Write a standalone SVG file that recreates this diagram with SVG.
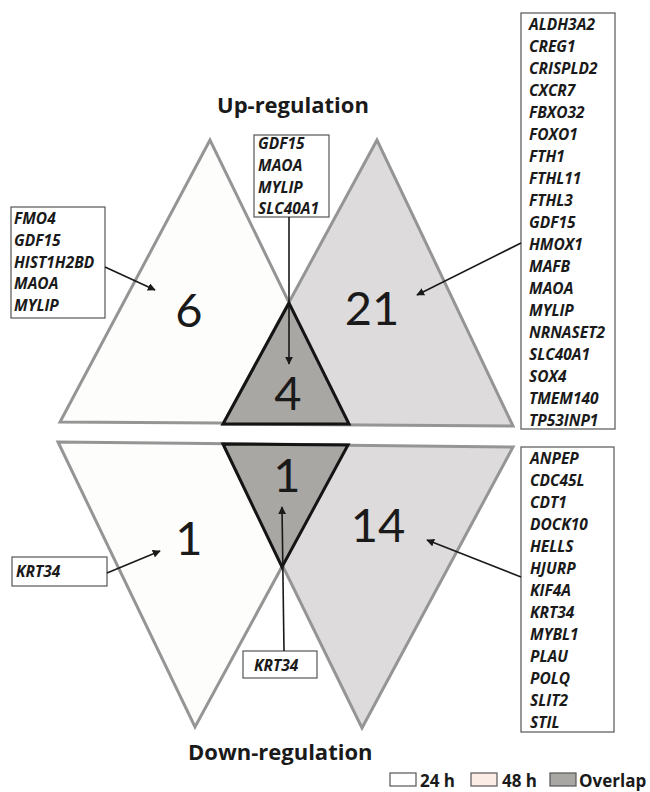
<svg xmlns="http://www.w3.org/2000/svg" width="650" height="792" viewBox="0 0 650 792">
<style>
.t24{fill:#fdfdfc;stroke:#959595;stroke-width:3;stroke-linejoin:miter}
.t48{fill:#dddbdb;stroke:#959595;stroke-width:3}
.ov{fill:#a9a7a4;stroke:#141414;stroke-width:3;stroke-linejoin:miter}
.num{font-family:Lato,"Liberation Sans",sans-serif;font-size:47px;fill:#1a1a1a;text-anchor:middle}
.title{font-family:"Open Sans","Liberation Sans",sans-serif;font-size:22px;font-weight:bold;fill:#1a1a1a}
.gene{font-family:"Open Sans","Liberation Sans",sans-serif;font-size:15.5px;font-weight:bold;font-style:italic;fill:#1a1a1a}
.box{fill:#fff;stroke:#555;stroke-width:1.2}
.leg{font-family:"Open Sans","Liberation Sans",sans-serif;font-size:17px;font-weight:bold;fill:#1a1a1a}
.arr{stroke:#1a1a1a;stroke-width:1.6;fill:none;marker-end:url(#ah)}
</style>
<defs>
<marker id="ah" viewBox="0 0 10 10" refX="9" refY="5" markerWidth="8" markerHeight="8" markerUnits="userSpaceOnUse" orient="auto">
<path d="M0,0 L10,5 L0,10 z" fill="#1a1a1a"/>
</marker>
</defs>

<text class="title" x="217" y="113">Up-regulation</text>
<text class="title" x="188" y="760">Down-regulation</text>

<g id="up-24h">
<polygon class="t24" points="210,140 60,422 348,424"/>
</g>
<g id="up-48h">
<polygon class="t48" points="377,140 223,424 513,426"/>
</g>
<g id="up-overlap">
<polygon class="ov" points="289,303 223,424 349,424"/>
</g>
<g id="down-24h">
<polygon class="t24" points="58,442 348,445 195,727"/>
</g>
<g id="down-48h">
<polygon class="t48" points="223,444 513,447 362,728"/>
</g>
<g id="down-overlap">
<polygon class="ov" points="223,444 348,445 282,567"/>
</g>

<g id="numbers">
<text class="num" x="189" y="327">6</text>
<text class="num" x="372" y="325">21</text>
<text class="num" x="288" y="410">4</text>
<text class="num" x="189" y="555">1</text>
<text class="num" x="287" y="492">1</text>
<text class="num" x="378" y="542">14</text>
</g>

<g id="box-up-24h">
<rect class="box" x="11" y="207" width="94" height="111"/>
<text class="gene" x="14" y="224">FMO4</text>
<text class="gene" x="14" y="246">GDF15</text>
<text class="gene" x="14" y="268">HIST1H2BD</text>
<text class="gene" x="14" y="289">MAOA</text>
<text class="gene" x="14" y="311">MYLIP</text>
</g>

<g id="box-up-overlap">
<rect class="box" x="254" y="135" width="75" height="82"/>
<text class="gene" x="258" y="149">GDF15</text>
<text class="gene" x="258" y="171">MAOA</text>
<text class="gene" x="258" y="193">MYLIP</text>
<text class="gene" x="258" y="214">SLC40A1</text>
</g>

<g id="box-up-48h">
<rect class="box" x="521" y="13" width="94" height="416"/>
<text class="gene" x="529" y="30">ALDH3A2</text>
<text class="gene" x="529" y="52">CREG1</text>
<text class="gene" x="529" y="74">CRISPLD2</text>
<text class="gene" x="529" y="96">CXCR7</text>
<text class="gene" x="529" y="118">FBXO32</text>
<text class="gene" x="529" y="140">FOXO1</text>
<text class="gene" x="529" y="162">FTH1</text>
<text class="gene" x="529" y="184">FTHL11</text>
<text class="gene" x="529" y="206">FTHL3</text>
<text class="gene" x="529" y="228">GDF15</text>
<text class="gene" x="529" y="250">HMOX1</text>
<text class="gene" x="529" y="272">MAFB</text>
<text class="gene" x="529" y="294">MAOA</text>
<text class="gene" x="529" y="316">MYLIP</text>
<text class="gene" x="529" y="338">NRNASET2</text>
<text class="gene" x="529" y="360">SLC40A1</text>
<text class="gene" x="529" y="382">SOX4</text>
<text class="gene" x="529" y="404">TMEM140</text>
<text class="gene" x="529" y="426">TP53INP1</text>
</g>

<g id="box-down-24h">
<rect class="box" x="12" y="557" width="95" height="29"/>
<text class="gene" x="16" y="577">KRT34</text>
</g>

<g id="box-down-overlap">
<rect class="box" x="243" y="651" width="74" height="27"/>
<text class="gene" x="254" y="671">KRT34</text>
</g>

<g id="box-down-48h">
<rect class="box" x="521" y="447" width="93" height="285"/>
<text class="gene" x="530" y="464">ANPEP</text>
<text class="gene" x="530" y="486">CDC45L</text>
<text class="gene" x="530" y="508">CDT1</text>
<text class="gene" x="530" y="530">DOCK10</text>
<text class="gene" x="530" y="552">HELLS</text>
<text class="gene" x="530" y="574">HJURP</text>
<text class="gene" x="530" y="596">KIF4A</text>
<text class="gene" x="530" y="618">KRT34</text>
<text class="gene" x="530" y="640">MYBL1</text>
<text class="gene" x="530" y="662">PLAU</text>
<text class="gene" x="530" y="684">POLQ</text>
<text class="gene" x="530" y="706">SLIT2</text>
<text class="gene" x="530" y="728">STIL</text>
</g>

<g id="connectors">
<line class="arr" x1="105" y1="267" x2="155" y2="290"/>
<line class="arr" x1="289" y1="217" x2="289" y2="364"/>
<line class="arr" x1="521" y1="243" x2="417" y2="295"/>
<line class="arr" x1="107" y1="573" x2="160" y2="551"/>
<line class="arr" x1="284" y1="651" x2="282" y2="507"/>
<line class="arr" x1="521" y1="577" x2="427" y2="540"/>
</g>

<g id="legend">
<rect x="390" y="773" width="26" height="13" fill="#fff" stroke="#555" stroke-width="1.2"/>
<text class="leg" x="420" y="787">24 h</text>
<rect x="471" y="773" width="26" height="13" fill="#fcece6" stroke="#555" stroke-width="1.2"/>
<text class="leg" x="502" y="787">48 h</text>
<rect x="550" y="773" width="26" height="13" fill="#a9a7a4" stroke="#555" stroke-width="1.2"/>
<text class="leg" x="579" y="787">Overlap</text>
</g>
</svg>
